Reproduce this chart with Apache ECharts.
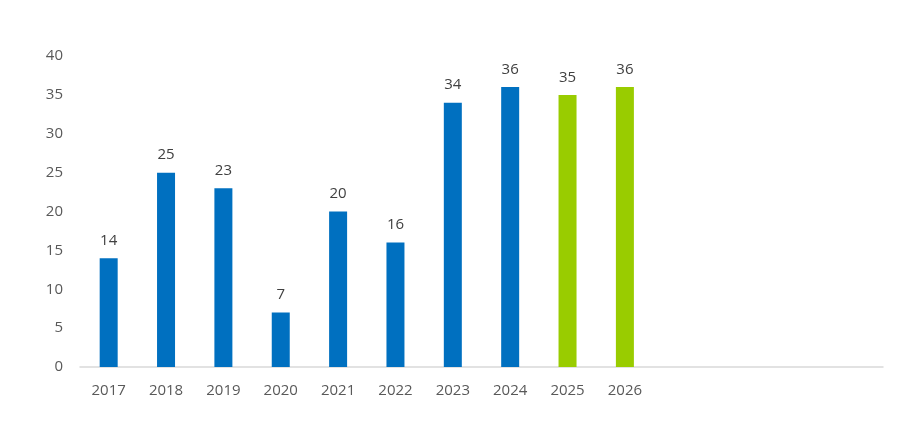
<!DOCTYPE html>
<html><head><meta charset="utf-8">
<script src="https://cdn.jsdelivr.net/npm/echarts@6/dist/echarts.min.js"></script>
<style>html,body{margin:0;padding:0;background:#fff}#c{width:922px;height:445px}</style>
</head><body><div id="c"></div>
<script>
const categories = ['2017','2018','2019','2020','2021','2022','2023','2024','2025','2026','','','',''];
const values = [14,25,23,7,20,16,34,36,35,36];
const forecastFrom = 8; // index where green bars begin
const yTicks = {min:0, max:40, interval:5};
const chart = echarts.init(document.getElementById('c'));
chart.setOption({
  animation:false,
  grid:{left:80,right:39,top:56,bottom:78,containLabel:false},
  xAxis:{type:'category',data:categories,
    axisLine:{lineStyle:{color:'#D9D9D9',width:1.5}},axisTick:{show:false},
    axisLabel:{color:'#595959',fontSize:15,fontFamily:'Open Sans',margin:16,interval:0}},
  yAxis:{type:'value',min:yTicks.min,max:yTicks.max,interval:yTicks.interval,
    splitLine:{show:false},axisLine:{show:false},axisTick:{show:false},
    axisLabel:{color:'#595959',fontSize:15,fontFamily:'Open Sans',margin:17}},
  series:[{type:'bar',barWidth:18,
    data:values.map((v,i)=>({value:v,itemStyle:{color:i>=forecastFrom?'#99CC00':'#0070C0'}})),
    label:{show:true,position:'top',distance:10,color:'#404040',fontSize:15,fontFamily:'Open Sans'}}]
});
</script></body></html>
